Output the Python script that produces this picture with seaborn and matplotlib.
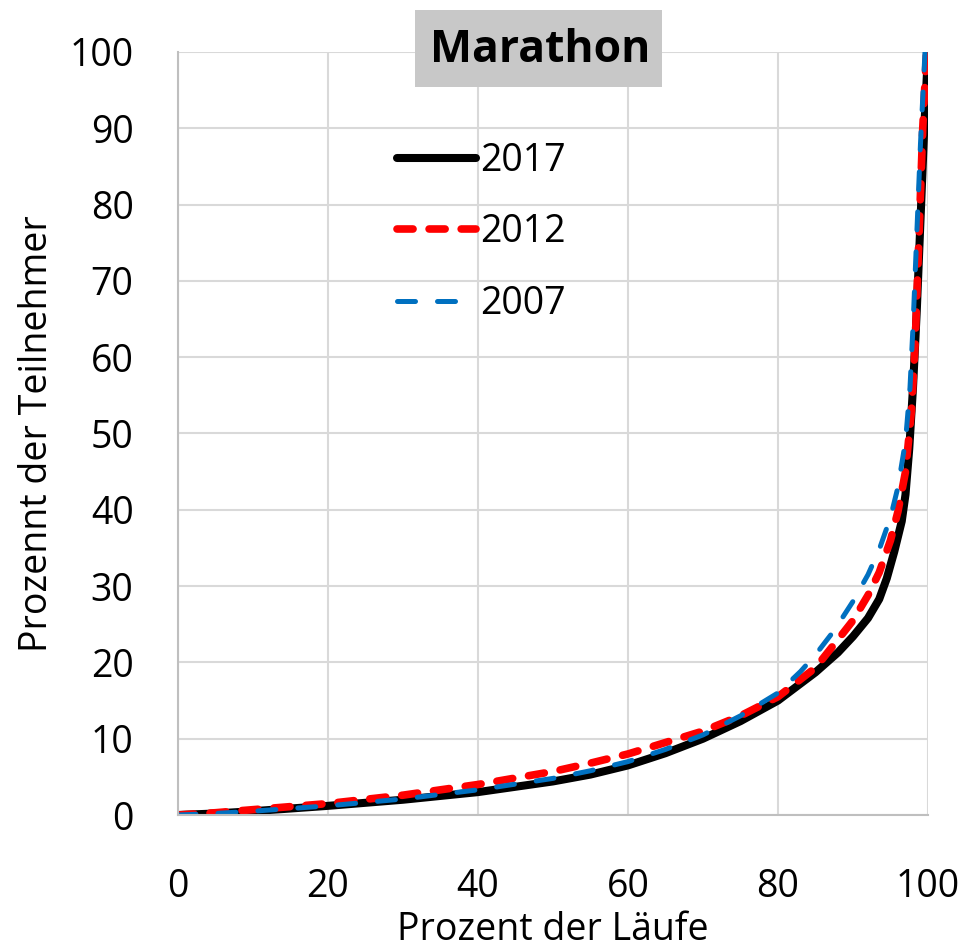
import pandas as pd
import matplotlib.pyplot as plt
import seaborn as sns
from matplotlib.patches import Rectangle

# Data (percent of runs vs percent of participants)
x_2017 = [0, 5, 10, 20, 30, 40, 50, 55, 60, 65, 70, 75, 80, 85, 88, 90, 92, 93.5, 94.5, 95.5, 96.5, 97, 97.5, 98, 98.5, 99, 99.5, 100]
y_2017 = [0, 0.2, 0.5, 1.2, 2.0, 3.0, 4.4, 5.3, 6.5, 8.1, 10.0, 12.3, 15.0, 18.7, 21.3, 23.4, 25.8, 28.3, 31.0, 34.5, 38.5, 42.0, 48.0, 56.0, 66.0, 78.0, 90.0, 100]

x_2012 = [0, 5, 10, 20, 30, 40, 50, 55, 60, 65, 70, 75, 80, 85, 88, 90, 92, 93.5, 95, 96, 97, 97.8, 98.3, 98.8, 99.3, 99.8]
y_2012 = [0, 0.3, 0.7, 1.5, 2.6, 4.0, 5.7, 6.8, 8.0, 9.5, 11.0, 13.0, 15.5, 19.3, 23.0, 25.5, 28.8, 31.8, 36.0, 39.8, 45.0, 53.0, 62.0, 76.0, 90.0, 100]

x_2007 = [0, 5, 10, 20, 30, 40, 50, 55, 60, 65, 70, 75, 80, 83, 85, 87.5, 90, 92, 93.5, 95, 96, 97, 97.6, 98, 98.5, 99, 99.6]
y_2007 = [0, 0.2, 0.5, 1.2, 2.1, 3.3, 4.8, 5.8, 7.0, 8.6, 10.5, 13.0, 16.0, 18.8, 21.0, 24.2, 28.0, 31.5, 34.8, 39.0, 43.0, 49.0, 56.0, 64.0, 76.0, 88.0, 100]

series = [
    ('2017', x_2017, y_2017, 'black', 5.8, None),
    ('2012', x_2012, y_2012, '#ff0000', 5.5, (2.1, 2.1)),
    ('2007', x_2007, y_2007, '#0070c0', 3.6, (3.6, 4.4)),
]

sns.set_style('white')
plt.rcParams['font.family'] = ['Open Sans', 'DejaVu Sans']
plt.rcParams['text.color'] = 'black'
plt.rcParams['axes.labelcolor'] = 'black'
plt.rcParams['xtick.color'] = 'black'
plt.rcParams['ytick.color'] = 'black'

fig = plt.figure(figsize=(9.66, 9.52), dpi=100)
ax = fig.add_axes([178 / 966, 1 - 815 / 952, 750 / 966, 763 / 952])

for name, xs, ys, col, lw, dash in series:
    df = pd.DataFrame({'x': xs, 'y': ys})
    sns.lineplot(data=df, x='x', y='y', ax=ax, color=col, linewidth=lw, label=name,
                 sort=False, estimator=None)
    line = ax.get_lines()[-1]
    line.set_solid_capstyle('round')
    line.set_solid_joinstyle('round')
    line.set_dash_capstyle('round')
    if dash is not None:
        line.set_dashes(dash)

ax.set_xlim(0, 100)
ax.set_ylim(0, 100)
ax.set_xticks(range(0, 101, 20))
ax.set_yticks(range(0, 101, 10))
ax.grid(True, color='#d9d9d9', linewidth=1.5)
for s in ['top', 'right']:
    ax.spines[s].set_visible(False)
for s in ['left', 'bottom']:
    ax.spines[s].set_color('#bfbfbf')
    ax.spines[s].set_linewidth(1.5)
ax.tick_params(axis='both', labelsize=27, length=0)
ax.tick_params(axis='y', pad=32)
ax.tick_params(axis='x', pad=38)

ax.set_xlabel('Prozent der Läufe', fontsize=27, labelpad=4)
ax.set_ylabel('Prozennt der Teilnehmer', fontsize=27, labelpad=10)

leg = ax.legend(loc='upper left', bbox_to_anchor=(378 / 966, 1 - 123 / 952),
                bbox_transform=fig.transFigure, frameon=False, fontsize=27,
                handlelength=2.1, handletextpad=0.12, labelspacing=0.9, borderpad=0)

# grey title box
fig.patches.append(Rectangle((415 / 966, 1 - 87 / 952), 247 / 966, 77 / 952,
                             transform=fig.transFigure, facecolor='#c8c8c8',
                             edgecolor='none', zorder=5))
fig.text(540 / 966, 1 - 50 / 952, 'Marathon', fontsize=32, fontweight='bold',
         ha='center', va='center', zorder=6)

fig.savefig('out.png', dpi=100)
